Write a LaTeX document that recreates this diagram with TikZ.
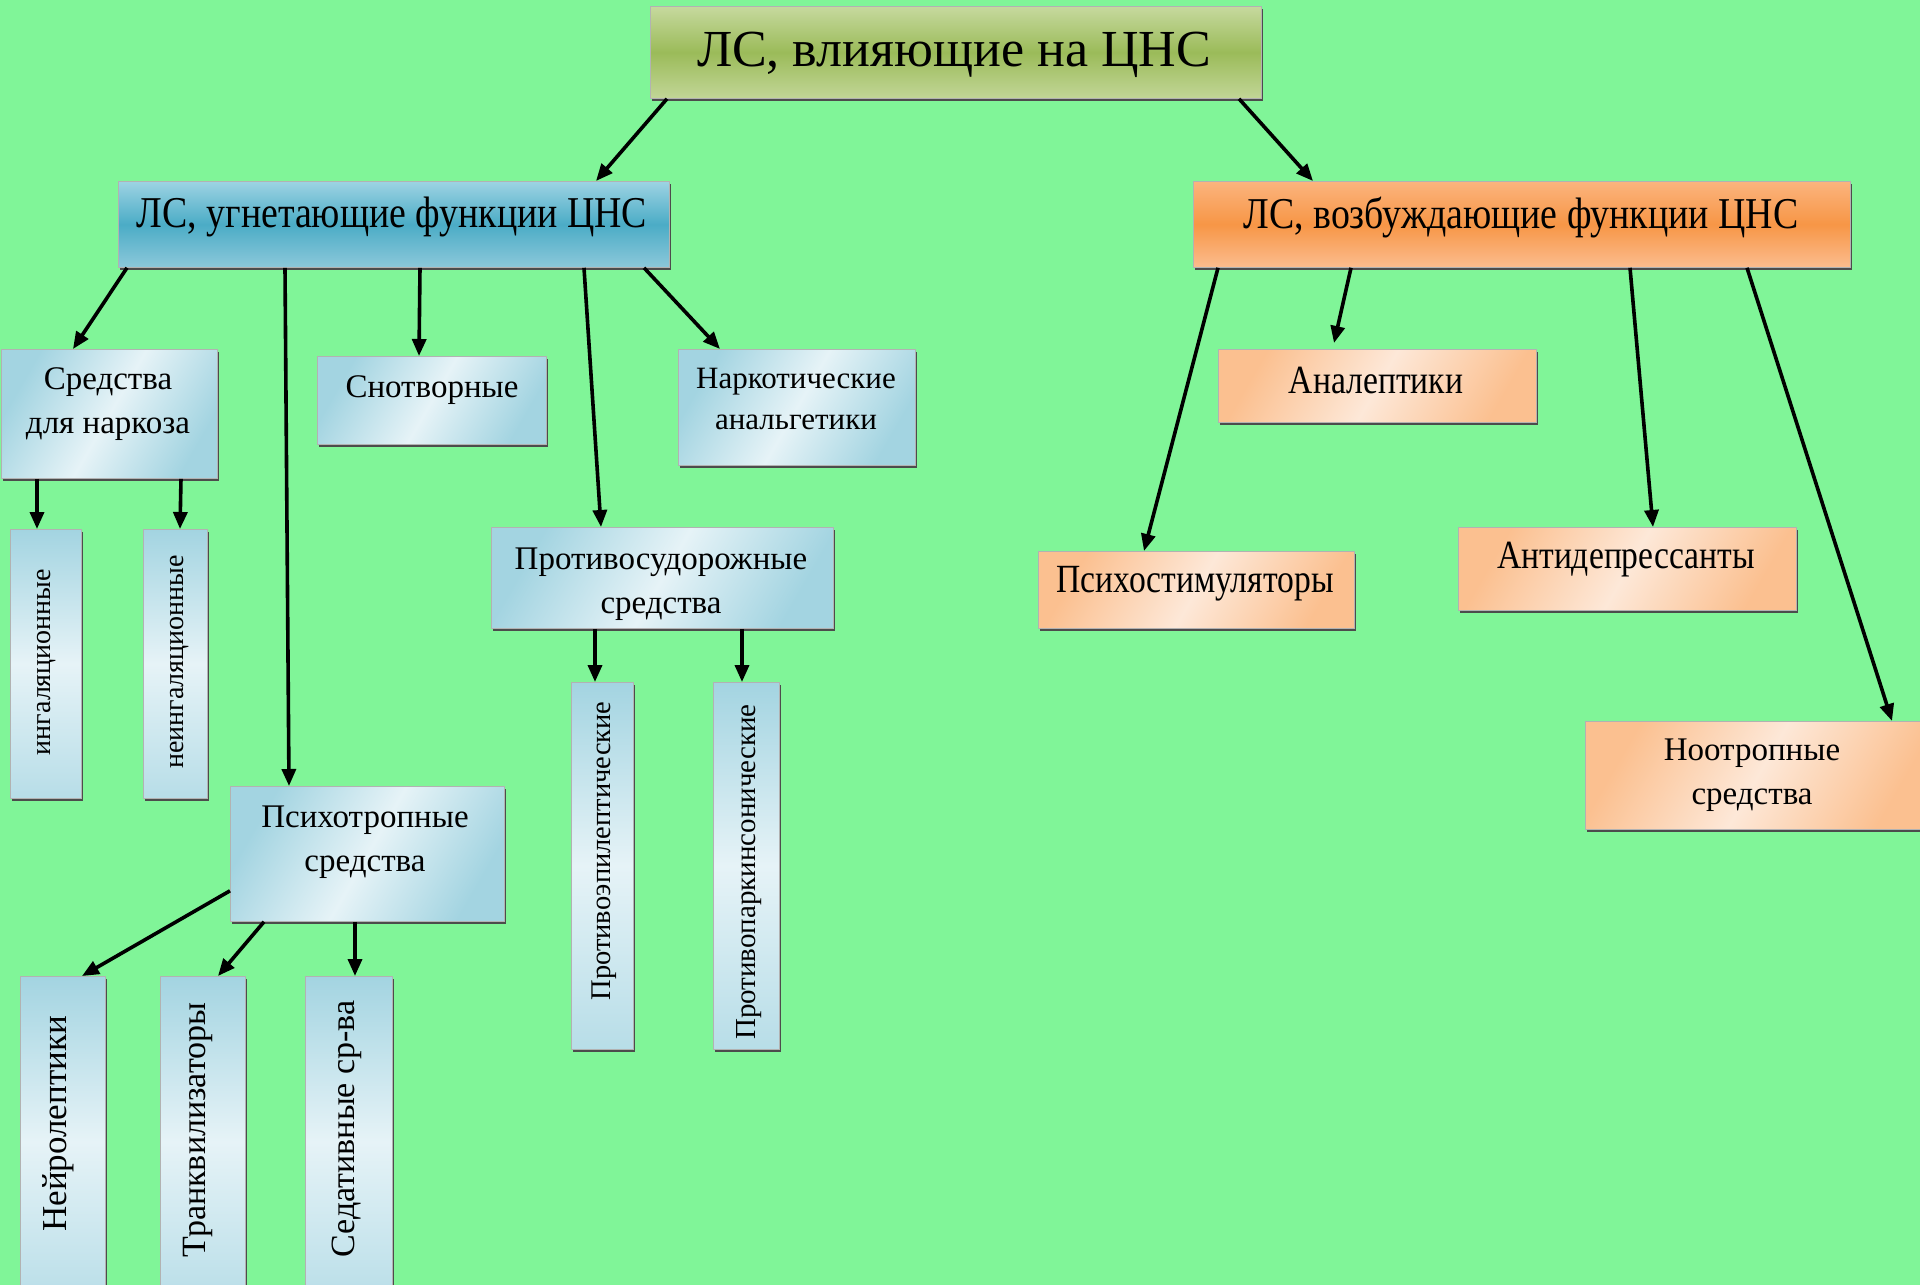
\documentclass[tikz,border=0pt]{standalone}
\usepackage{fontspec}
\setmainfont{Liberation Serif}
\newfontfamily\condserif[FakeStretch=0.86]{Liberation Serif}
\newfontfamily\condserifb[FakeStretch=0.84]{Liberation Serif}
\usetikzlibrary{arrows.meta,shadows}
\definecolor{bg}{HTML}{80F598}
\definecolor{olivetop}{HTML}{C6D99E}
\definecolor{olivemid}{HTML}{9BBB59}
\definecolor{bluetop}{HTML}{9DD3E3}
\definecolor{bluemid}{HTML}{4BACC6}
\definecolor{bluebot}{HTML}{8CC8DA}
\definecolor{orgtop}{HTML}{FBB47E}
\definecolor{orgmid}{HTML}{F79646}
\definecolor{orgbot}{HTML}{FBBC8E}
\definecolor{lbluec}{HTML}{A3D4E1}
\definecolor{lbluem}{HTML}{E6F3F7}
\definecolor{lorgc}{HTML}{FBC090}
\definecolor{lorgm}{HTML}{FDE8D8}
\tikzset{
  boxbase/.style={anchor=north west, inner sep=0pt, draw=black!30, line width=0.8pt,
    general shadow={fill=black!70, shadow xshift=2pt, shadow yshift=-3pt}},
  titlebox/.style={boxbase, top color=olivetop, bottom color=olivetop!90!olivemid, middle color=olivemid},
  bluebox/.style={boxbase, top color=bluetop, bottom color=bluebot, middle color=bluemid},
  orgbox/.style={boxbase, top color=orgtop, bottom color=orgbot, middle color=orgmid},
  lblue/.style={boxbase, left color=lbluec, right color=lbluec, middle color=lbluem, shading angle=60},
  lbluev/.style={boxbase, top color=lbluec, bottom color=lbluec!70!lbluem, middle color=lbluem},
  lorg/.style={boxbase, left color=lorgc, right color=lorgc, middle color=lorgm, shading angle=60},
  txt/.style={inner sep=0pt, align=center, text=black},
  vtxt/.style={inner sep=0pt, rotate=90, text=black},
  arr/.style={line width=3.6pt, -{Triangle[length=17pt,width=14pt]}},
}
\begin{document}
\begin{tikzpicture}[x=1pt,y=-1pt]
\useasboundingbox (0,0) rectangle (1920,1285);
\clip (0,0) rectangle (1920,1285);
\fill[bg] (0,0) rectangle (1920,1285);

% boxes
\node[titlebox, minimum width=611pt, minimum height=92pt] (title) at (650,6) {};
\node[bluebox, minimum width=551pt, minimum height=86pt] (blue) at (118,181) {};
\node[orgbox, minimum width=657pt, minimum height=86pt] (orange) at (1193,181) {};
\node[lblue, minimum width=216pt, minimum height=129pt] (sred) at (1,349) {};
\node[lblue, minimum width=229pt, minimum height=88pt] (snot) at (317,356) {};
\node[lblue, minimum width=237pt, minimum height=116pt] (nark) at (678,349) {};
\node[lbluev, minimum width=71pt, minimum height=269pt] (ingal) at (10,529) {};
\node[lbluev, minimum width=64pt, minimum height=269pt] (neingal) at (143,529) {};
\node[lblue, minimum width=342pt, minimum height=101pt] (protsud) at (491,527) {};
\node[lblue, minimum width=274pt, minimum height=135pt] (psych) at (230,786) {};
\node[lbluev, minimum width=62pt, minimum height=367pt] (epil) at (571,682) {};
\node[lbluev, minimum width=66pt, minimum height=367pt] (park) at (713,682) {};
\node[lbluev, minimum width=85pt, minimum height=330pt] (neiro) at (20,976) {};
\node[lbluev, minimum width=85pt, minimum height=330pt] (trank) at (160,976) {};
\node[lbluev, minimum width=87pt, minimum height=330pt] (sedat) at (305,976) {};
\node[lorg, minimum width=318pt, minimum height=73pt] (analep) at (1218,349) {};
\node[lorg, minimum width=316pt, minimum height=77pt] (psystim) at (1038,551) {};
\node[lorg, minimum width=338pt, minimum height=83pt] (antidep) at (1458,527) {};
\node[lorg, minimum width=345pt, minimum height=108pt] (nootrop) at (1585,721) {};

% texts
\node[txt, font=\fontsize{52}{60}\selectfont] (ttitle) at (954,55) {ЛС, влияющие на ЦНС};
\node[txt, font=\condserif\fontsize{44}{50}\selectfont] (tblue) at (392,217) {ЛС, угнетающие функции ЦНС};
\node[txt, font=\condserif\fontsize{44}{50}\selectfont] (torange) at (1521,217) {ЛС, возбуждающие функции ЦНС};
\node[txt, font=\fontsize{33}{44}\selectfont] (tsred) at (108,404) {Средства\\для наркоза};
\node[txt, font=\fontsize{33}{44}\selectfont] (tsnot) at (432,390) {Снотворные};
\node[txt, font=\fontsize{31}{41}\selectfont] (tnark) at (796,399) {Наркотические\\анальгетики};
\node[txt, font=\fontsize{33}{44}\selectfont] (tprotsud) at (661,584) {Противосудорожные\\средства};
\node[txt, font=\fontsize{33}{44}\selectfont] (tpsych) at (365,842) {Психотропные\\средства};
\node[txt, font=\condserifb\fontsize{40}{44}\selectfont] (tanalep) at (1376,380) {Аналептики};
\node[txt, font=\condserifb\fontsize{40}{44}\selectfont] (tpsystim) at (1195,584) {Психостимуляторы};
\node[txt, font=\condserifb\fontsize{40}{44}\selectfont] (tantidep) at (1626,560) {Антидепрессанты};
\node[txt, font=\fontsize{33}{44}\selectfont] (tnootrop) at (1752,775) {Ноотропные\\средства};
\node[vtxt, font=\fontsize{28}{34}\selectfont] (tingal) at (47,662) {ингаляционные};
\node[vtxt, font=\fontsize{28}{34}\selectfont] (tneingal) at (180,662) {неингаляционные};
\node[vtxt, font=\fontsize{28.5}{34}\selectfont] (tepil) at (604,851) {Противоэпилептические};
\node[vtxt, font=\fontsize{29}{34}\selectfont] (tpark) at (749,872) {Противопаркинсонические};
\node[vtxt, font=\fontsize{35}{40}\selectfont] (tneiro) at (58,1124) {Нейролептики};
\node[vtxt, font=\fontsize{34}{40}\selectfont] (ttrank) at (198,1130) {Транквилизаторы};
\node[vtxt, font=\fontsize{34}{40}\selectfont] (tsedat) at (347,1129) {Седативные ср-ва};

% connectors
\draw[arr] ([xshift=17pt]title.south west) -- ([xshift=478pt]blue.north west);
\draw[arr] ([xshift=589pt]title.south west) -- ([xshift=120pt]orange.north west);
\draw[arr] ([xshift=9pt]blue.south west) -- ([xshift=72pt]sred.north west);
\draw[arr] ([xshift=167pt]blue.south west) -- ([xshift=59pt]psych.north west);
\draw[arr] ([xshift=302pt]blue.south west) -- ([xshift=102pt]snot.north west);
\draw[arr] ([xshift=466pt]blue.south west) -- ([xshift=110pt]protsud.north west);
\draw[arr] ([xshift=526pt]blue.south west) -- ([xshift=42pt]nark.north west);
\draw[arr] ([xshift=36pt]sred.south west) -- ([xshift=27pt]ingal.north west);
\draw[arr] ([xshift=180pt]sred.south west) -- ([xshift=37pt]neingal.north west);
\draw[arr] ([yshift=31pt]psych.south west) -- ([xshift=62pt]neiro.north west);
\draw[arr] ([xshift=34pt]psych.south west) -- ([xshift=58pt]trank.north west);
\draw[arr] ([xshift=125pt]psych.south west) -- ([xshift=50pt]sedat.north west);
\draw[arr] ([xshift=104pt]protsud.south west) -- ([xshift=24pt]epil.north west);
\draw[arr] ([xshift=251pt]protsud.south west) -- ([xshift=29pt]park.north west);
\draw[arr] ([xshift=25pt]orange.south west) -- ([xshift=106pt]psystim.north west);
\draw[arr] ([xshift=158pt]orange.south west) -- ([xshift=116pt,yshift=6pt]analep.north west);
\draw[arr] ([xshift=437pt]orange.south west) -- ([xshift=195pt]antidep.north west);
\draw[arr] ([xshift=554pt]orange.south west) -- ([xshift=307pt]nootrop.north west);
\end{tikzpicture}
\end{document}
